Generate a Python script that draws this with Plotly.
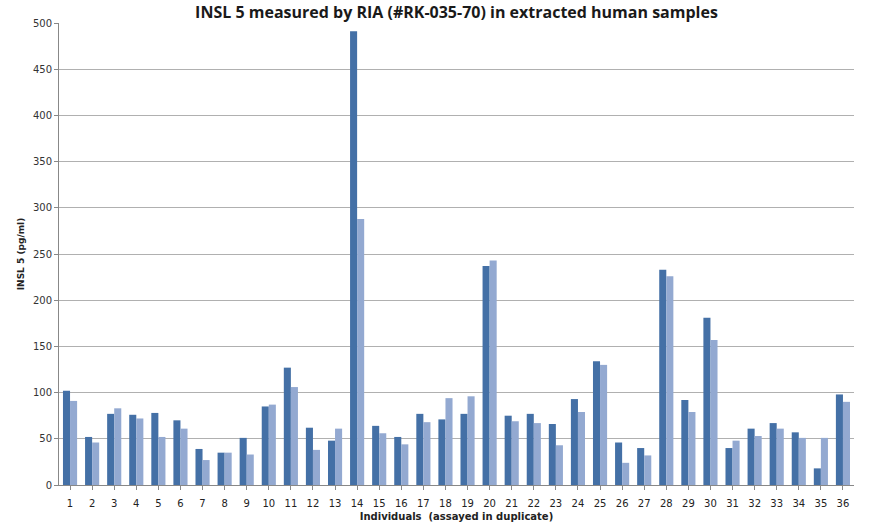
import plotly.graph_objects as go

individuals = list(range(1, 37))
assay_1 = [102, 52, 77, 76, 78, 70, 39, 35, 51, 85, 127, 62, 48, 491, 64, 52, 77, 71, 77, 237,
           75, 77, 66, 93, 134, 46, 40, 233, 92, 181, 40, 61, 67, 57, 18, 98]
assay_2 = [91, 46, 83, 72, 52, 61, 27, 35, 33, 87, 106, 38, 61, 288, 56, 44, 68, 94, 96, 243,
           69, 67, 43, 79, 130, 24, 32, 226, 79, 157, 48, 53, 61, 51, 51, 90]
y_ticks = [0, 50, 100, 150, 200, 250, 300, 350, 400, 450, 500]

fig = go.Figure()
fig.add_trace(go.Bar(x=individuals, y=assay_1, name="Assay 1",
                     marker=dict(color="#4470A6", line=dict(width=0))))
fig.add_trace(go.Bar(x=individuals, y=assay_2, name="Assay 2",
                     marker=dict(color="#93A9D1", line=dict(width=0))))

fig.update_layout(
    width=880, height=527,
    margin=dict(l=59, r=26, t=23, b=42),
    paper_bgcolor="white", plot_bgcolor="white",
    barmode="group", bargap=0.36, bargroupgap=0,
    showlegend=False,
    title=dict(text="<b>INSL 5 measured by RIA (#RK-035-70) in extracted human samples</b>",
               xref="paper", x=0.5, xanchor="center", y=0.977, yanchor="middle",
               font=dict(family="Open Sans, Liberation Sans, sans-serif", size=16, color="#1a1a1a")),
    font=dict(family="DejaVu Sans, sans-serif", color="#333333"),
)
fig.update_xaxes(
    automargin=False,
    range=[0.5, 36.5], tickmode="array", tickvals=individuals,
    ticktext=[str(i) for i in individuals],
    ticks="outside", ticklen=4, tickcolor="#888888", tickson="boundaries",
    ticklabelstandoff=5,
    showline=True, linecolor="#888888", linewidth=1, showgrid=False,
    tickfont=dict(size=10, color="#222222"),
    title=dict(text="<b>Individuals  (assayed in duplicate)</b>", standoff=4,
               font=dict(size=10, color="#222222")),
)
fig.update_yaxes(
    automargin=False,
    range=[0, 500], tickmode="array", tickvals=y_ticks,
    ticks="outside", ticklen=4, tickcolor="#888888",
    showline=True, linecolor="#888888", linewidth=1,
    showgrid=True, gridcolor="#B0B0B0", gridwidth=1,
    tickfont=dict(size=10, color="#333333"),
    zeroline=False,
    title=dict(text="<b>INSL 5 (pg/ml)</b>", standoff=6, font=dict(size=9, color="#222222")),
)

fig.write_html("out.html")
